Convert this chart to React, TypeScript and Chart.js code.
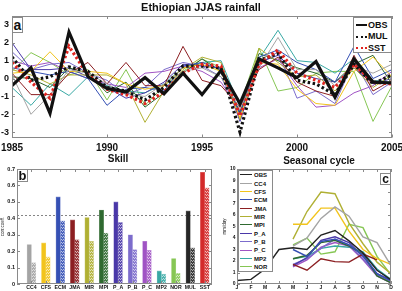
import React, { useEffect, useRef } from "react";
import { Chart, registerables } from "chart.js";

Chart.register(...registerables);

const FONT = "'Liberation Sans', Arial, Helvetica, sans-serif";

// ---------- Panel a: JJAS rainfall anomalies ----------
const YEARS = [1985, 1986, 1987, 1988, 1989, 1990, 1991, 1992, 1993, 1994, 1995, 1996, 1997, 1998, 1999, 2000, 2001, 2002, 2003, 2004, 2005];
const OBS = [-0.4, 0.6, -1.95, 2.6, 0.1, -0.55, -0.75, 0.05, -0.85, 0.3, -0.9, 0.45, -1.4, 1.1, 0.6, 0.05, 0.95, -1.05, 1.1, -0.2, -0.25];
const MUL = [1.2, -0.1, 0.1, 0.65, 0.4, -0.5, -0.7, -1.2, -0.5, 0.7, 0.7, 0.6, -3.0, 1.0, 1.4, -0.1, -0.3, -0.9, 0.8, -0.3, 0.2];
const SST = [0.9, -0.2, -1.1, 1.8, 0.2, -0.6, -0.9, -1.4, -0.75, 0.3, 0.8, 0.7, -2.1, 0.8, 1.6, 0.3, -0.1, -0.5, 0.8, -0.2, -0.3];

const MODELS = ["CC4", "CFS", "ECM", "JMA", "MIR", "MPI", "P_A", "P_B", "P_C", "MP2", "NOR"];
const MODEL_COLORS = ["#a4a4a4", "#f2c41c", "#3550b4", "#8c1f22", "#b0b034", "#2f6a30", "#4a38a8", "#7c6ccc", "#a054c4", "#38a8a4", "#86c654"];

const CC4_TS = [0.2, -2.0, -0.9, 0.5, 0.3, -0.3, -0.9, -1.0, -0.3, 0.4, 0.6, 0.1, -1.7, 0.6, 2.3, 0.5, 0.5, -0.4, 0.7, 0.3, 0.8];
const CFS_TS = [0.3, 0.4, 1.5, 0.4, 0.4, 0.3, -0.3, -0.6, -0.4, 0.6, 0.8, 0.4, -2.2, 0.9, 0.8, -0.6, -1.4, -1.5, 0.4, 1.2, 0.1];
const ECM_TS = [0.6, 0.4, 0.2, 0.4, 0.0, -1.5, -0.6, -0.5, -0.7, 0.7, 0.9, 0.5, -2.0, 1.2, 1.6, 0.9, 0.5, -0.2, 1.8, 0.0, 0.5];
const JMA_TS = [0.3, -0.9, -0.9, 0.3, 0.9, -0.3, 0.9, -0.4, -0.4, 1.8, -0.1, -0.4, -1.6, 0.5, 1.2, -0.2, -0.7, -1.0, 1.3, -0.7, -0.1];
const MIR_TS = [0.5, 0.2, -0.3, 0.2, 0.2, 0.2, -0.3, -2.45, -0.7, 0.5, 1.2, 0.9, -2.3, 1.7, 0.9, 0.1, 0.2, -0.7, 0.6, -0.5, 0.2];
const MPI_TS = [0.1, 0.0, -0.5, 0.6, 0.3, -0.8, -0.2, -1.6, -0.8, 0.3, 1.1, 0.4, -1.9, 1.4, 1.0, 0.6, 0.3, -0.2, 0.8, 1.3, -0.3];
const PA_TS = [2.0, 0.5, 0.5, 0.6, 0.1, -0.5, -1.1, -0.8, -0.2, 0.8, 0.7, 0.6, -2.4, 0.9, 1.3, 0.3, 0.0, -0.2, 0.6, -0.3, 0.0];
const PB_TS = [1.5, 0.5, 0.8, 0.9, 0.3, -0.1, -0.9, -0.5, 0.5, 0.9, 0.7, 0.1, -2.0, 0.8, 1.5, -1.1, -0.7, -1.4, 1.0, -0.9, -0.2];
const PC_TS = [1.0, 0.7, 0.9, 0.4, 0.0, -0.3, -0.5, 0.3, 0.4, 0.7, 0.4, -0.2, -1.8, 0.6, 1.1, -0.4, -1.6, -1.5, -0.8, -0.4, 0.4];
const MP2_TS = [-0.5, -1.5, -0.3, -0.95, 0.1, -0.4, -0.7, -0.8, -0.3, 0.6, 0.9, 1.0, -1.6, 1.1, 2.7, 1.0, 0.9, 0.3, 1.1, -0.1, -0.2];
const NOR_TS = [0.4, 1.45, 0.9, 0.2, 0.5, -1.2, 0.5, -1.5, -0.4, 0.4, 1.1, 0.6, -1.5, 1.7, -0.7, -0.5, 0.3, 0.4, 0.4, -2.4, -0.4];
const MODEL_TS = [CC4_TS, CFS_TS, ECM_TS, JMA_TS, MIR_TS, MPI_TS, PA_TS, PB_TS, PC_TS, MP2_TS, NOR_TS];

const A_YMIN = -3.3;
const A_YMAX = 3.5;

// ---------- Panel b: skill ----------
const SKILL_CATS = ["CC4", "CFS", "ECM", "JMA", "MIR", "MPI", "P_A", "P_B", "P_C", "MP2", "NOR", "MUL", "SST"];
const SKILL_COLORS = ["#a4a4a4", "#f2c41c", "#3550b4", "#8c1f22", "#b0b034", "#2f6a30", "#4a38a8", "#7c6ccc", "#a054c4", "#38a8a4", "#86c654", "#262626", "#d42a2a"];
const SKILL_CORR = [0.24, 0.25, 0.53, 0.39, 0.405, 0.45, 0.50, 0.30, 0.26, 0.08, 0.155, 0.445, 0.68];
const SKILL_CORR2 = [0.13, 0.165, 0.385, 0.27, 0.26, 0.31, 0.375, 0.21, 0.205, 0.06, 0.065, 0.22, 0.585];
const SIG_LEVEL = 0.42;

// ---------- Panel c: seasonal cycle ----------
const MONTHS = ["J", "F", "M", "A", "M", "J", "J", "A", "S", "O", "N", "D"];
const CYCLE_NAMES = ["OBS", "CC4", "CFS", "ECM", "JMA", "MIR", "MPI", "P_A", "P_B", "P_C", "MP2", "NOR"];
const CYCLE_COLORS = ["#222222", "#a4a4a4", "#f2c41c", "#3550b4", "#8c1f22", "#b0b034", "#2f6a30", "#4a38a8", "#7c6ccc", "#a054c4", "#38a8a4", "#86c654"];
const OBS_CYC = [0.3, 0.4, 1.3, 3.0, 3.15, 3.0, 4.25, 4.65, 3.75, 2.7, 1.2, 0.35];
const CC4_CYC = [null, null, null, null, 3.3, 4.0, 5.7, 6.7, 5.9, 4.1, 3.6, 1.6];
const CFS_CYC = [null, null, null, null, 5.2, 5.2, 6.6, 6.6, 4.6, 3.0, 2.2, 1.7];
const ECM_CYC = [null, null, null, null, 3.0, 2.4, 3.7, 3.9, 3.4, 2.5, 0.9, 0.3];
const JMA_CYC = [null, null, null, null, 1.7, 1.2, 2.2, 1.95, 1.9, 2.6, 2.1, null];
const MIR_CYC = [null, null, null, null, 3.9, 6.3, 8.0, 7.85, 5.3, 3.5, 1.9, 0.9];
const MPI_CYC = [null, null, null, null, 2.2, 2.5, 3.6, 3.8, 3.3, 2.6, 0.7, 0.1];
const PA_CYC = [null, null, null, null, 1.6, 2.3, 3.8, 4.1, 3.6, 2.4, 0.9, 0.3];
const PB_CYC = [null, null, null, null, 1.7, 2.2, 3.1, 3.9, 3.4, 2.2, 0.8, 0.2];
const PC_CYC = [null, null, null, null, 1.5, 2.1, 3.2, 3.6, 3.3, 2.1, 0.7, 0.1];
const MP2_CYC = [null, null, null, null, 2.2, 2.4, 3.1, 3.3, 3.2, 2.8, 1.3, 0.4];
const NOR_CYC = [null, null, null, null, 3.4, 4.0, 2.6, 2.8, 5.2, 4.9, 2.4, 0.8];
const CYCLES = [OBS_CYC, CC4_CYC, CFS_CYC, ECM_CYC, JMA_CYC, MIR_CYC, MPI_CYC, PA_CYC, PB_CYC, PC_CYC, MP2_CYC, NOR_CYC];

// ---------- helpers ----------
function mix(hex: string, t: number) {
  const n = parseInt(hex.slice(1), 16);
  const r = (n >> 16) & 255, g = (n >> 8) & 255, b = n & 255;
  const f = (c: number) => Math.round(c + (255 - c) * t);
  return `rgb(${f(r)},${f(g)},${f(b)})`;
}

function makePattern(hex: string) {
  const c = document.createElement("canvas");
  c.width = 2;
  c.height = 3;
  const x = c.getContext("2d")!;
  x.fillStyle = mix(hex, 0.1);
  x.fillRect(0, 0, 2, 3);
  x.fillStyle = mix(hex, 0.65);
  x.fillRect(0, 0, 1, 1);
  x.fillRect(1, 2, 1, 1);
  return x.createPattern(c, "repeat");
}

const framePlugin = {
  id: "frame",
  afterDatasetsDraw(chart: any, _args: any, opts: any) {
    const { ctx, chartArea: a, scales } = chart;
    ctx.save();
    ctx.strokeStyle = opts.color || "#8a8a8a";
    ctx.lineWidth = 1;
    ctx.strokeRect(Math.round(a.left) + 0.5, Math.round(a.top) + 0.5, Math.round(a.right - a.left) - 1, Math.round(a.bottom - a.top) - 1);
    const L = opts.len ?? 3;
    ctx.beginPath();
    if (opts.x !== false) {
      scales.x.ticks.forEach((t: any) => {
        const px = Math.round(scales.x.getPixelForValue(t.value)) + 0.5;
        ctx.moveTo(px, a.bottom);
        ctx.lineTo(px, a.bottom - L);
        ctx.moveTo(px, a.top);
        ctx.lineTo(px, a.top + L);
      });
    }
    if (opts.y !== false) {
      scales.y.ticks.forEach((t: any) => {
        const py = Math.round(scales.y.getPixelForValue(t.value)) + 0.5;
        ctx.moveTo(a.left, py);
        ctx.lineTo(a.left + L, py);
        ctx.moveTo(a.right, py);
        ctx.lineTo(a.right - L, py);
      });
    }
    ctx.stroke();
    ctx.restore();
  },
};

const refLinePlugin = {
  id: "refLine",
  beforeDatasetsDraw(chart: any, _args: any, opts: any) {
    if (opts.value == null) return;
    const { ctx, chartArea: a, scales } = chart;
    const py = Math.round(scales.y.getPixelForValue(opts.value)) + 0.5;
    ctx.save();
    ctx.strokeStyle = "#666";
    ctx.lineWidth = 0.8;
    ctx.setLineDash([2, 2]);
    ctx.beginPath();
    ctx.moveTo(a.left, py);
    ctx.lineTo(a.right, py);
    ctx.stroke();
    ctx.restore();
  },
};

const full: React.CSSProperties = { position: "absolute", left: 0, top: 0, width: 402, height: 291 };

export default function App() {
  const refA = useRef<HTMLCanvasElement>(null);
  const refB = useRef<HTMLCanvasElement>(null);
  const refC = useRef<HTMLCanvasElement>(null);

  useEffect(() => {
    Chart.defaults.font.family = FONT;
    Chart.defaults.color = "#111";

    // ----- panel a -----
    const thin = MODELS.map((m, i) => ({
      label: m,
      data: YEARS.map((y, k) => ({ x: y, y: MODEL_TS[i][k] })),
      borderColor: MODEL_COLORS[i],
      borderWidth: 1,
      pointRadius: 0,
      order: 2,
    }));
    const chartA = new Chart(refA.current!, {
      type: "line",
      data: {
        datasets: [
          { label: "OBS", data: YEARS.map((y, k) => ({ x: y, y: OBS[k] })), borderColor: "#111", borderWidth: 3.2, pointRadius: 0, order: 0 },
          { label: "SST", data: YEARS.map((y, k) => ({ x: y, y: SST[k] })), borderColor: "#e0231f", borderWidth: 3.2, borderDash: [2.5, 2.5], pointRadius: 0, order: 0 },
          { label: "MUL", data: YEARS.map((y, k) => ({ x: y, y: MUL[k] })), borderColor: "#111", borderWidth: 3.2, borderDash: [2.5, 2.5], pointRadius: 0, order: 1 },
          ...thin,
        ] as any,
      },
      options: {
        animation: false,
        responsive: false,
        layout: { padding: { left: 0, top: 16, right: 10, bottom: 137.5 } },
        plugins: { legend: { display: false }, tooltip: { enabled: false }, frame: {} } as any,
        scales: {
          x: {
            type: "linear",
            min: 1985,
            max: 2005,
            ticks: { stepSize: 5, font: { size: 10, weight: "bold" }, padding: 5, maxRotation: 0, callback: (v: any) => String(v) },
            grid: { display: false, drawTicks: false },
            border: { display: false },
            afterFit: (s: any) => { s.height = 16; s.paddingLeft = 0; s.paddingRight = 0; },
          },
          y: {
            min: A_YMIN,
            max: A_YMAX,
            ticks: { stepSize: 1, includeBounds: false, font: { size: 9, weight: "bold" }, padding: 3 },
            grid: { display: false, drawTicks: false },
            border: { display: false },
            afterFit: (s: any) => { s.width = 12; s.paddingTop = 0; s.paddingBottom = 0; },
          },
        },
      } as any,
      plugins: [framePlugin],
    });

    // ----- panel b -----
    const chartB = new Chart(refB.current!, {
      type: "bar",
      data: {
        datasets: [
          {
            label: "corr",
            data: SKILL_CATS.map((_, i) => ({ x: i + 1, y: SKILL_CORR[i] })),
            backgroundColor: SKILL_COLORS,
            borderColor: SKILL_COLORS.map((c) => mix(c, 0.35)),
            borderWidth: 0.6,
            barThickness: 4.4,
          },
          {
            label: "corr2",
            data: SKILL_CATS.map((_, i) => ({ x: i + 1, y: SKILL_CORR2[i] })),
            backgroundColor: SKILL_COLORS.map((c) => makePattern(c)),
            borderColor: SKILL_COLORS.map((c) => mix(c, 0.55)),
            borderWidth: 0.6,
            barThickness: 4.4,
          },
        ] as any,
      },
      options: {
        animation: false,
        responsive: false,
        layout: { padding: { left: 0, top: 169, right: 190, bottom: 0 } },
        plugins: { legend: { display: false }, tooltip: { enabled: false }, frame: { y: true }, refLine: { value: SIG_LEVEL } } as any,
        scales: {
          x: {
            type: "linear",
            min: 0,
            max: 13.5,
            offset: false,
            afterBuildTicks: (s: any) => { s.ticks = SKILL_CATS.map((_, i) => ({ value: i + 1 })); },
            ticks: { autoSkip: false, maxRotation: 0, font: { size: 5.2, weight: "bold" }, padding: 0.5, callback: (v: any) => SKILL_CATS[Math.round(v) - 1] },
            grid: { display: false, drawTicks: false, offset: false },
            border: { display: false },
            afterFit: (s: any) => { s.height = 7; s.paddingLeft = 0; s.paddingRight = 0; },
          },
          y: {
            min: 0,
            max: 0.7,
            ticks: { stepSize: 0.1, font: { size: 5.5, weight: "bold" }, padding: 2 },
            grid: { display: false, drawTicks: false },
            border: { display: false },
            title: { display: true, text: "corr.coeff.", font: { size: 4.5 }, padding: { top: 0, bottom: 0 } },
            afterFit: (s: any) => { s.width = 17; s.paddingTop = 0; s.paddingBottom = 0; },
          },
        },
      } as any,
      plugins: [framePlugin, refLinePlugin],
    });

    // ----- panel c -----
    const chartC = new Chart(refC.current!, {
      type: "line",
      data: {
        datasets: CYCLE_NAMES.map((n, i) => ({
          label: n,
          data: CYCLES[i].map((v, k) => ({ x: k + 1, y: v })),
          borderColor: CYCLE_COLORS[i],
          borderWidth: 1.4,
          pointRadius: 0,
          spanGaps: false,
          order: i === 0 ? 0 : 1,
        })) as any,
      },
      options: {
        animation: false,
        responsive: false,
        layout: { padding: { left: 221, top: 169, right: 11, bottom: 0 } },
        plugins: { legend: { display: false }, tooltip: { enabled: false }, frame: {} } as any,
        scales: {
          x: {
            type: "linear",
            min: 1,
            max: 12,
            afterBuildTicks: (s: any) => { s.ticks = MONTHS.map((_, i) => ({ value: i + 1 })); },
            ticks: { autoSkip: false, maxRotation: 0, font: { size: 5, weight: "bold" }, padding: 1, callback: (v: any) => MONTHS[Math.round(v) - 1] },
            grid: { display: false, drawTicks: false },
            border: { display: false },
            afterFit: (s: any) => { s.height = 7; s.paddingLeft = 0; s.paddingRight = 0; },
          },
          y: {
            min: 0,
            max: 10,
            ticks: { stepSize: 1, font: { size: 5, weight: "bold" }, padding: 1.5 },
            grid: { display: false, drawTicks: false },
            border: { display: false },
            title: { display: true, text: "mm/day", font: { size: 4.5 }, padding: { top: 1, bottom: 0 } },
            afterFit: (s: any) => { s.width = 16; s.paddingTop = 0; s.paddingBottom = 0; },
          },
        },
      } as any,
      plugins: [framePlugin],
    });

    return () => {
      chartA.destroy();
      chartB.destroy();
      chartC.destroy();
    };
  }, []);

  const txt = (s: React.CSSProperties): React.CSSProperties => ({ position: "absolute", fontFamily: FONT, color: "#111", whiteSpace: "nowrap", lineHeight: 1, ...s });
  const letterBox = (s: React.CSSProperties): React.CSSProperties => ({
    position: "absolute", boxSizing: "border-box", border: "1px solid #8a8a8a", background: "#fff",
    fontFamily: FONT, fontWeight: "bold", color: "#111", display: "flex", alignItems: "center", justifyContent: "center", lineHeight: 1, ...s,
  });

  const legendA = [
    { name: "OBS", color: "#111", style: "solid" },
    { name: "MUL", color: "#111", style: "dotted" },
    { name: "SST", color: "#e0231f", style: "dotted" },
  ];

  return (
    <div style={{ position: "fixed", left: 0, top: 0, width: 402, height: 291, background: "#fff", overflow: "hidden" }}>
      <canvas ref={refA} width={402} height={291} style={full} />
      <canvas ref={refB} width={402} height={291} style={full} />
      <canvas ref={refC} width={402} height={291} style={full} />

      <div style={txt({ left: 0, width: 402, top: 2, textAlign: "center", fontSize: 11, fontWeight: "bold" })}>Ethiopian JJAS rainfall</div>
      <div style={txt({ left: 118, top: 154, transform: "translateX(-50%)", fontSize: 10, fontWeight: "bold" })}>Skill</div>
      <div style={txt({ left: 319, top: 156, transform: "translateX(-50%)", fontSize: 10, fontWeight: "bold" })}>Seasonal cycle</div>

      <div style={letterBox({ left: 12, top: 17, width: 11, height: 16, fontSize: 14 })}>a</div>
      <div style={letterBox({ left: 17, top: 169, width: 11, height: 13, fontSize: 13 })}>b</div>
      <div style={letterBox({ left: 380, top: 173, width: 11, height: 12, fontSize: 12 })}>c</div>

      {/* legend a */}
      <div style={{ position: "absolute", left: 353, top: 17, width: 39, height: 36, boxSizing: "border-box", border: "1px solid #8a8a8a", background: "#fff" }} />
      {legendA.map((l, i) => (
        <React.Fragment key={l.name}>
          <div style={{ position: "absolute", left: 356, top: 24 + i * 11.6, width: 11, borderTop: `2px ${l.style} ${l.color}` }} />
          <div style={txt({ left: 368, top: 20.5 + i * 11.6, fontSize: 9, fontWeight: "bold" })}>{l.name}</div>
        </React.Fragment>
      ))}

      {/* legend c */}
      <div style={{ position: "absolute", left: 238, top: 170, width: 35, height: 102, boxSizing: "border-box", border: "1px solid #8a8a8a", background: "#fff" }} />
      {CYCLE_NAMES.map((n, i) => (
        <React.Fragment key={n}>
          <div style={{ position: "absolute", left: 240, top: 174.3 + i * 8.36, width: 12, borderTop: `1.5px solid ${CYCLE_COLORS[i]}` }} />
          <div style={txt({ left: 254, top: 172.2 + i * 8.36, fontSize: 6, fontWeight: "bold" })}>{n}</div>
        </React.Fragment>
      ))}
    </div>
  );
}
